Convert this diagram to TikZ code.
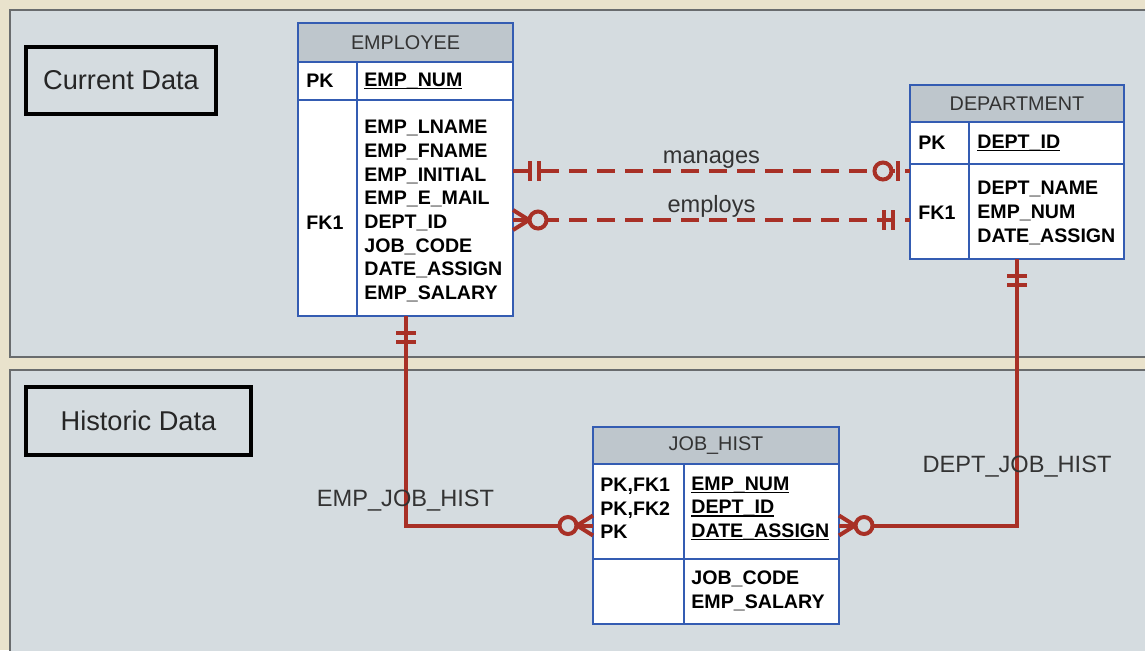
\documentclass[tikz,border=0pt]{standalone}
\usepackage{fontspec}
\setsansfont{Liberation Sans}
\usepackage{tikz}
\usetikzlibrary{positioning,fit,decorations.markings}
\definecolor{bgbeige}{RGB}{233,226,204}
\definecolor{panelc}{RGB}{213,220,224}
\definecolor{panelln}{RGB}{105,108,110}
\definecolor{entblue}{RGB}{52,92,178}
\definecolor{ttlgray}{RGB}{190,198,204}
\definecolor{relred}{RGB}{168,48,38}
\newcommand\kul[1]{\setbox0\hbox{#1}\rlap{\rule[-1.4pt]{\wd0}{0.6pt}}\box0}
\tikzset{
  panel/.style={draw=panelln, fill=panelc, line width=0.8pt},
  tag/.style={draw=black, line width=2pt, fill=panelc, inner sep=0pt, outer sep=0pt, font=\sffamily\fontsize{13.6}{16}\selectfont, text=black!85},
  ttl/.style={draw=entblue, fill=ttlgray, line width=1pt, inner sep=0pt, outer sep=0pt, font=\sffamily\fontsize{9.9}{12}\selectfont, text=black!80},
  sect/.style={draw=entblue, fill=white, line width=1pt, inner sep=0pt, outer sep=0pt},
  ent/.style={draw=entblue, line width=1pt, inner sep=0pt, outer sep=0pt},
  tline/.style={draw=entblue, line width=1pt},
  fld/.style={anchor=west, align=left, inner sep=0pt, font=\sffamily\bfseries\fontsize{9.8}{11.85}\selectfont},
  rlbl/.style={inner sep=0pt, text=black!80, font=\sffamily\fontsize{11.8}{14}\selectfont},
  rel/.style={draw=relred, line width=2pt},
  drel/.style={rel, dash pattern=on 9pt off 5pt},
  ermark/.style={solid, draw=relred, line width=2pt},
  % one and only one
  oneS/.style={postaction={decorate, decoration={markings, mark=at position 0.01pt with {\draw[ermark] (17,-10) -- (17,10) (26,-10) -- (26,10);}}}},
  oneE/.style={postaction={decorate, decoration={markings, mark=at position -0.01pt with {\draw[ermark] (-17,-10) -- (-17,10) (-26,-10) -- (-26,10);}}}},
  % zero or one
  zoE/.style={postaction={decorate, decoration={markings, mark=at position -0.01pt with {\draw[ermark] (-12,-10) -- (-12,10); \draw[ermark, fill=panelc] (-27,0) circle[radius=8.5];}}}},
  % zero or many
  zmS/.style={postaction={decorate, decoration={markings, mark=at position 0.01pt with {\draw[ermark] (0,-10) -- (16,0) -- (0,10); \draw[ermark, fill=panelc] (25,0) circle[radius=8.5];}}}},
  zmE/.style={postaction={decorate, decoration={markings, mark=at position -0.01pt with {\draw[ermark] (0,-10) -- (-16,0) -- (0,10); \draw[ermark, fill=panelc] (-25,0) circle[radius=8.5];}}}},
}
\begin{document}
\begin{tikzpicture}[x=0.5pt,y=-0.5pt]
\useasboundingbox[fill=bgbeige] (0,0) rectangle (1145,650);
\draw[panel] (10,10) rectangle (1160,357);
\draw[panel] (10,370) rectangle (1160,660);
\node[tag, minimum width=95pt, minimum height=33.5pt] (curTag) at (121,80.5) {Current Data};
\node[tag, minimum width=112.5pt, minimum height=34pt] (histTag) at (138.5,421) {Historic Data};

% EMPLOYEE
\node[ttl, minimum width=107.5pt, minimum height=19.5pt] (empT) at (405.5,42.5) {EMPLOYEE};
\node[sect, minimum width=107.5pt, minimum height=19pt, below=0pt of empT] (empK) {};
\node[sect, minimum width=107.5pt, minimum height=108pt, below=0pt of empK] (empB) {};
\node[ent, fit=(empT)(empB)] (emp) {};
\draw[tline] ([xshift=29.5pt]empK.north west) -- ([xshift=29.5pt]empB.south west);
\node[fld] (empPK) at ([xshift=4pt]empK.west) {PK};
\node[fld] (empPF) at ([xshift=33pt]empK.west) {\kul{EMP\_NUM}};
\node[fld] (empFK) at ([xshift=4pt,yshift=-7.5pt]empB.west) {FK1};
\node[fld] (empF) at ([xshift=33pt,yshift=-1.5pt]empB.west) {EMP\_LNAME\\EMP\_FNAME\\EMP\_INITIAL\\EMP\_E\_MAIL\\DEPT\_ID\\JOB\_CODE\\DATE\_ASSIGN\\EMP\_SALARY};

% DEPARTMENT
\node[ttl, minimum width=107pt, minimum height=18.5pt] (deptT) at (1017,103.5) {DEPARTMENT};
\node[sect, minimum width=107pt, minimum height=21pt, below=0pt of deptT] (deptK) {};
\node[sect, minimum width=107pt, minimum height=47.5pt, below=0pt of deptK] (deptB) {};
\node[ent, fit=(deptT)(deptB)] (dept) {};
\draw[tline] ([xshift=29.5pt]deptK.north west) -- ([xshift=29.5pt]deptB.south west);
\node[fld] (deptPK) at ([xshift=4pt]deptK.west) {PK};
\node[fld] (deptPF) at ([xshift=33.5pt]deptK.west) {\kul{DEPT\_ID}};
\node[fld] (deptFK) at ([xshift=4pt,yshift=-0.75pt]deptB.west) {FK1};
\node[fld] (deptF) at ([xshift=33.5pt,yshift=-0.75pt]deptB.west) {DEPT\_NAME\\EMP\_NUM\\DATE\_ASSIGN};

% JOB_HIST
\node[ttl, minimum width=123pt, minimum height=18.5pt] (jobT) at (716,445.5) {JOB\_HIST};
\node[sect, minimum width=123pt, minimum height=47.5pt, below=0pt of jobT] (jobK) {};
\node[sect, minimum width=123pt, minimum height=32.5pt, below=0pt of jobK] (jobB) {};
\node[ent, fit=(jobT)(jobB)] (job) {};
\draw[tline] ([xshift=45.5pt]jobK.north west) -- ([xshift=45.5pt]jobB.south west);
\node[fld] (jobPK) at ([xshift=3.5pt,yshift=1.5pt]jobK.west) {PK,FK1\\PK,FK2\\PK};
\node[fld] (jobPF) at ([xshift=49pt,yshift=1.5pt]jobK.west) {\kul{EMP\_NUM}\\\kul{DEPT\_ID}\\\kul{DATE\_ASSIGN}};
\node[fld] (jobF) at ([xshift=49pt,yshift=0.5pt]jobB.west) {JOB\_CODE\\EMP\_SALARY};

% relationships
\coordinate (mgY) at (0,171);
\coordinate (epY) at (0,220);
\draw[drel, oneS, zoE] (emp.east |- mgY) -- node[rlbl, above=0.5pt] (mgL) {manages} (dept.west |- mgY);
\draw[drel, zmS, oneE] (emp.east |- epY) -- node[rlbl, above=0.5pt] (epL) {employs} (dept.west |- epY);
\draw[rel, oneS, zmE] (emp.south) |- node[rlbl, pos=0.44] (ejL) {EMP\_JOB\_HIST} (job.west);
\draw[rel, oneS, zmE] (dept.south) |- node[rlbl, pos=0.39] (djL) {DEPT\_JOB\_HIST} (job.east);
\end{tikzpicture}
\end{document}
